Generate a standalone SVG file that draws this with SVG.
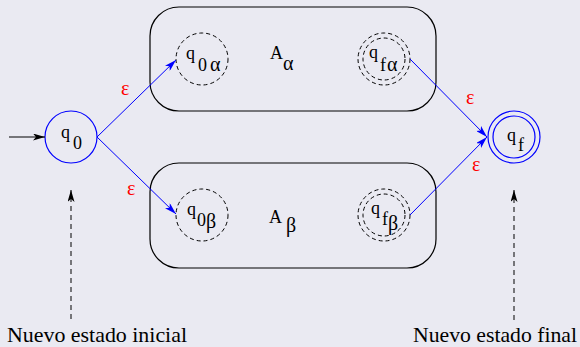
<svg xmlns="http://www.w3.org/2000/svg" width="580" height="347" viewBox="0 0 580 347">
<defs>
<style>
.bg{fill:#eaeaf2}
.box{fill:none;stroke:#000;stroke-width:1.2}
.dc{fill:none;stroke:#000;stroke-width:1;stroke-dasharray:4,3}
.bc{fill:none;stroke:#0000ff;stroke-width:1.2}
.be{fill:none;stroke:#0000ff;stroke-width:1}
.ke{fill:none;stroke:#000;stroke-width:1}
.kd{fill:none;stroke:#000;stroke-width:1;stroke-dasharray:5,4}
.lbl{font-family:"Liberation Serif","Times New Roman",serif;font-size:18px;fill:#000}
.gr{font-size:20px}
.eps{font-family:"Liberation Serif","Times New Roman",serif;font-size:20px;fill:#ff0000}
.cap{font-family:"Liberation Serif","Times New Roman",serif;font-size:21px;fill:#000}
</style>
<marker id="ab" markerUnits="userSpaceOnUse" markerWidth="13" markerHeight="7" refX="12" refY="3.5" orient="auto" viewBox="0 0 13 7">
<path d="M0,0 L12,3.5 L0,7 L3,3.5 z" fill="#0000ff"/>
</marker>
<marker id="ak" markerUnits="userSpaceOnUse" markerWidth="13" markerHeight="7" refX="12" refY="3.5" orient="auto" viewBox="0 0 13 7">
<path d="M0,0 L12,3.5 L0,7 L3,3.5 z" fill="#000"/>
</marker>
</defs>
<rect class="bg" x="0" y="0" width="580" height="347"/>

<g id="A_alpha">
<rect class="box" x="150" y="7" width="286" height="104" rx="29" ry="29"/>
<text class="lbl"><tspan x="270" y="59">A</tspan><tspan class="gr" x="283" y="70">α</tspan></text>
</g>
<g id="A_beta">
<rect class="box" x="150" y="163" width="286" height="105" rx="29" ry="29"/>
<text class="lbl"><tspan x="269" y="223">A</tspan><tspan class="gr" x="286" y="232">β</tspan></text>
</g>

<g id="q0">
<circle class="bc" cx="71" cy="137" r="26"/>
<text class="lbl"><tspan x="61" y="138">q</tspan><tspan x="73" y="149">0</tspan></text>
</g>
<g id="q0alpha">
<circle class="dc" cx="202" cy="59" r="26"/>
<text class="lbl"><tspan x="186" y="59">q</tspan><tspan x="198" y="71">0</tspan><tspan class="gr" x="210" y="71">α</tspan></text>
</g>
<g id="qfalpha">
<circle class="dc" cx="384" cy="59" r="26"/>
<circle class="dc" cx="384" cy="59" r="21"/>
<text class="lbl"><tspan x="369" y="58">q</tspan><tspan x="380" y="71">f</tspan><tspan class="gr" x="387" y="71">α</tspan></text>
</g>
<g id="q0beta">
<circle class="dc" cx="202" cy="215" r="26"/>
<text class="lbl"><tspan x="187" y="215">q</tspan><tspan x="197" y="226">0</tspan><tspan class="gr" x="206" y="228">β</tspan></text>
</g>
<g id="qfbeta">
<circle class="dc" cx="384" cy="215" r="26"/>
<circle class="dc" cx="384" cy="215" r="21"/>
<text class="lbl"><tspan x="371" y="214">q</tspan><tspan x="382" y="225">f</tspan><tspan class="gr" x="388" y="230">β</tspan></text>
</g>
<g id="qf">
<circle class="bc" cx="514" cy="137" r="26"/>
<circle class="bc" cx="514" cy="137" r="21"/>
<text class="lbl"><tspan x="507" y="141">q</tspan><tspan x="518" y="151">f</tspan></text>
</g>

<g id="connectors">
<line class="ke" x1="9" y1="137" x2="45" y2="137" marker-end="url(#ak)"/>
<line class="be" x1="97" y1="137" x2="176" y2="60" marker-end="url(#ab)"/>
<line class="be" x1="97" y1="137" x2="176" y2="214" marker-end="url(#ab)"/>
<line class="be" x1="410" y1="59" x2="487" y2="137" marker-end="url(#ab)"/>
<line class="be" x1="410" y1="215" x2="487" y2="137" marker-end="url(#ab)"/>
<text class="eps" x="121" y="95">ε</text>
<text class="eps" x="127" y="195">ε</text>
<text class="eps" x="466" y="104">ε</text>
<text class="eps" x="472" y="171">ε</text>
<line class="kd" x1="71" y1="319" x2="71" y2="190" marker-end="url(#ak)"/>
<line class="kd" x1="514" y1="320" x2="514" y2="190" marker-end="url(#ak)"/>
</g>

<g id="labels">
<text class="cap" x="7" y="342" textLength="180" lengthAdjust="spacingAndGlyphs">Nuevo estado inicial</text>
<text class="cap" x="413" y="342" textLength="164" lengthAdjust="spacingAndGlyphs">Nuevo estado final</text>
</g>
</svg>
